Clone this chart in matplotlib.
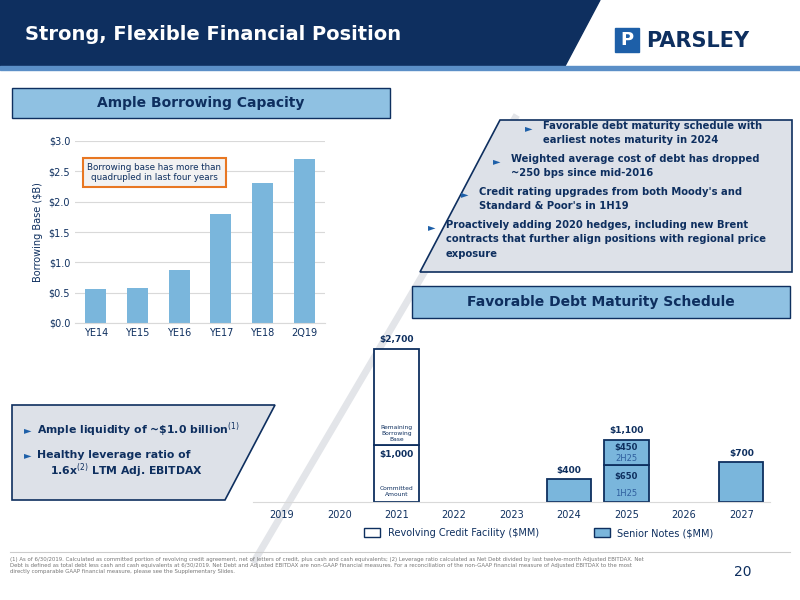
import matplotlib
matplotlib.use("Agg")
import matplotlib.pyplot as plt
from matplotlib.patches import Rectangle, Polygon

periods = ["YE14", "YE15", "YE16", "YE17", "YE18", "2Q19"]
borrowing_base = [0.56, 0.57, 0.87, 1.80, 2.30, 2.70]
y_ticks = [0.0, 0.5, 1.0, 1.5, 2.0, 2.5, 3.0]

years = ["2019", "2020", "2021", "2022", "2023", "2024", "2025", "2026", "2027"]
rcf_committed = [0, 0, 1000, 0, 0, 0, 0, 0, 0]
rcf_remaining = [0, 0, 1700, 0, 0, 0, 0, 0, 0]
notes_first = [0, 0, 0, 0, 0, 400, 650, 0, 700]
notes_second = [0, 0, 0, 0, 0, 0, 450, 0, 0]
totals = ["", "", "$2,700", "", "", "$400", "$1,100", "", "$700"]

NAVY = "#0e2f5f"
LBLUE = "#7ab6dc"
GRAY = "#dde1e8"
W, H = 800, 600

fig = plt.figure(figsize=(8, 6), dpi=100)
bg = fig.add_axes([0, 0, 1, 1])
bg.set_xlim(0, W); bg.set_ylim(H, 0); bg.axis("off")

# header
bg.add_patch(Polygon([[0, 0], [600, 0], [565, 66], [0, 66]], color=NAVY))
bg.add_patch(Rectangle((0, 66), W, 4, color="#5b8fc7"))
bg.text(25, 34, "Strong, Flexible Financial Position", color="white", fontsize=14,
        fontweight="bold", va="center", ha="left")
bg.add_patch(Rectangle((615, 28), 24, 24, color="#1d5fa8"))
bg.text(627, 40, "P", color="white", fontsize=13, fontweight="bold", ha="center", va="center")
bg.text(646, 41, "PARSLEY", color=NAVY, fontsize=15, fontweight="bold", ha="left", va="center")

# diagonal decoration
bg.plot([515, 255], [118, 560], color="#e3e5e9", lw=5, zorder=0)

# banners
bg.add_patch(Rectangle((12, 88), 378, 30, facecolor="#8fc1e2", edgecolor=NAVY, lw=1))
bg.text(201, 103, "Ample Borrowing Capacity", color=NAVY, fontsize=10, fontweight="bold",
        ha="center", va="center")
bg.add_patch(Rectangle((412, 286), 378, 32, facecolor="#8fc1e2", edgecolor=NAVY, lw=1))
bg.text(601, 302, "Favorable Debt Maturity Schedule", color=NAVY, fontsize=10,
        fontweight="bold", ha="center", va="center")

# right bullet box
bg.add_patch(Polygon([[500, 120], [792, 120], [792, 272], [420, 272]],
                     facecolor=GRAY, edgecolor=NAVY, lw=1.2))
bullets = [
    (537, 121, "Favorable debt maturity schedule with\nearliest notes maturity in 2024"),
    (505, 154, "Weighted average cost of debt has dropped\n~250 bps since mid-2016"),
    (473, 187, "Credit rating upgrades from both Moody's and\nStandard & Poor's in 1H19"),
    (440, 220, "Proactively adding 2020 hedges, including new Brent\ncontracts that further align positions with regional price\nexposure"),
]
for x, y, t in bullets:
    bg.text(x - 12, y + 7, "►", color="#1d5fa8", fontsize=7, va="center")
    bg.text(x + 6, y, t, color=NAVY, fontsize=7.2, fontweight="bold", va="top", linespacing=1.55)

# left bottom box
bg.add_patch(Polygon([[12, 405], [275, 405], [225, 500], [12, 500]],
                     facecolor=GRAY, edgecolor=NAVY, lw=1.2, zorder=0))
bg.text(24, 430, "►", color="#1d5fa8", fontsize=7, va="center")
bg.text(37, 430, r"Ample liquidity of ~\$1.0 billion$^{(1)}$", color=NAVY, fontsize=7.8,
        fontweight="bold", va="center")
bg.text(24, 455, "►", color="#1d5fa8", fontsize=7, va="center")
bg.text(37, 455, "Healthy leverage ratio of", color=NAVY, fontsize=7.8, fontweight="bold", va="center")
bg.text(50, 471, r"1.6x$^{(2)}$ LTM Adj. EBITDAX", color=NAVY, fontsize=7.8,
        fontweight="bold", va="center")

# footer
bg.plot([10, 790], [552, 552], color="#cccccc", lw=0.8)
foot = ("(1) As of 6/30/2019. Calculated as committed portion of revolving credit agreement, net of letters of credit, plus cash and cash equivalents; (2) Leverage ratio calculated as Net Debt divided by last twelve-month Adjusted EBITDAX. Net\n"
        "Debt is defined as total debt less cash and cash equivalents at 6/30/2019. Net Debt and Adjusted EBITDAX are non-GAAP financial measures. For a reconciliation of the non-GAAP financial measure of Adjusted EBITDAX to the most\n"
        "directly comparable GAAP financial measure, please see the Supplementary Slides.")
bg.text(10, 557, foot, fontsize=3.9, color="#777777", va="top", linespacing=1.3)
bg.text(743, 572, "20", fontsize=10, color=NAVY, ha="center", va="center")

# top-left chart
ax1 = fig.add_axes([75 / W, 1 - 323 / H, 250 / W, 182 / H])
ax1.bar(range(len(periods)), borrowing_base, width=0.5, color=LBLUE)
ax1.set_ylim(0, 3.0)
ax1.set_xlim(-0.5, len(periods) - 0.5)
ax1.set_yticks(y_ticks)
ax1.set_yticklabels([f"${v:.1f}" for v in y_ticks])
ax1.set_xticks(range(len(periods)))
ax1.set_xticklabels(periods)
ax1.tick_params(length=0, labelsize=7, colors=NAVY)
ax1.grid(axis="y", color="#d9d9d9", lw=0.8)
ax1.set_axisbelow(True)
for s in ax1.spines.values():
    s.set_visible(False)
ax1.spines["bottom"].set_visible(True); ax1.spines["bottom"].set_color("#d9d9d9")
ax1.set_ylabel("Borrowing Base ($B)", fontsize=7, color=NAVY)
ax1.text(1.4, 2.48, "Borrowing base has more than\nquadrupled in last four years", fontsize=6.3,
         color=NAVY, ha="center", va="center",
         bbox=dict(boxstyle="square,pad=0.5", fc="#f2f2f2", ec="#e87722", lw=1.5))

# bottom chart
ymax = 2700 * 162 / 153
ax2 = fig.add_axes([253 / W, 1 - 502 / H, 517 / W, 162 / H])
ax2.patch.set_alpha(0)
bw = 0.77

def draw(vals, bottom, fc):
    idx = [i for i, v in enumerate(vals) if v > 0]
    ax2.bar(idx, [vals[i] for i in idx], width=bw, bottom=[bottom[i] for i in idx],
            facecolor=fc, edgecolor=NAVY, lw=1.3)

zeros = [0] * len(years)
draw(rcf_committed, zeros, "white")
draw(rcf_remaining, rcf_committed, "white")
draw(notes_first, zeros, LBLUE)
draw(notes_second, notes_first, LBLUE)
ax2.set_ylim(0, ymax); ax2.set_xlim(-0.5, len(years) - 0.5)
ax2.set_xticks(range(len(years))); ax2.set_xticklabels(years)
ax2.set_yticks([])
ax2.tick_params(length=0, labelsize=7, colors=NAVY, pad=6)
for s in ax2.spines.values():
    s.set_visible(False)
ax2.spines["bottom"].set_visible(True); ax2.spines["bottom"].set_color("#d9d9d9")
for i, t in enumerate(totals):
    if t:
        top = rcf_committed[i] + rcf_remaining[i] + notes_first[i] + notes_second[i]
        ax2.text(i, top + 80, t.replace("$", r"\$"), ha="center", va="bottom", fontsize=6.5,
                 fontweight="bold", color=NAVY)
ax2.text(2, 1060, "Remaining\nBorrowing\nBase", ha="center", va="bottom", fontsize=4.3, color=NAVY)
ax2.text(2, 830, r"\$1,000", ha="center", va="center", fontsize=6.5, fontweight="bold", color=NAVY)
ax2.text(2, 190, "Committed\nAmount", ha="center", va="center", fontsize=4.3, color=NAVY)
ax2.text(6, 960, r"\$450", ha="center", va="center", fontsize=6, fontweight="bold", color=NAVY)
ax2.text(6, 770, "2H25", ha="center", va="center", fontsize=6, color="#2f5f9e")
ax2.text(6, 450, r"\$650", ha="center", va="center", fontsize=6, fontweight="bold", color=NAVY)
ax2.text(6, 150, "1H25", ha="center", va="center", fontsize=6, color="#2f5f9e")

# legend
bg.add_patch(Rectangle((364, 528), 16, 9, facecolor="white", edgecolor=NAVY, lw=1))
bg.text(388, 533, "Revolving Credit Facility ($MM)", fontsize=7, color=NAVY, va="center")
bg.add_patch(Rectangle((594, 528), 16, 9, facecolor=LBLUE, edgecolor=NAVY, lw=1))
bg.text(617, 533, "Senior Notes ($MM)", fontsize=7, color=NAVY, va="center")

fig.savefig("out.png", dpi=100)
